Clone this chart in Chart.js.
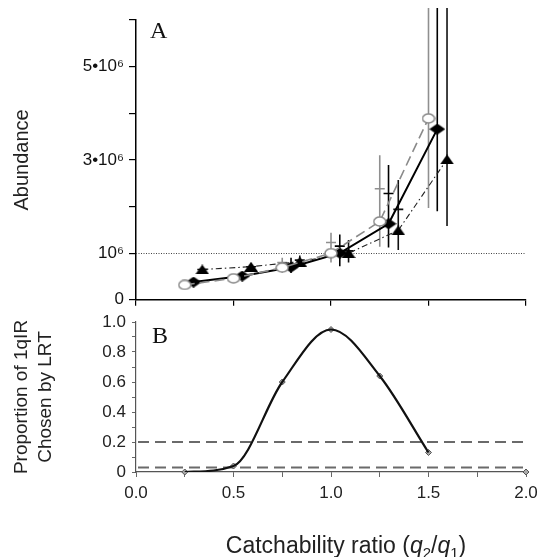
<!DOCTYPE html>
<html>
<head>
<meta charset="utf-8">
<script src="https://cdn.jsdelivr.net/npm/chart.js@4.4.0/dist/chart.umd.min.js"></script>
<style>
  html, body { margin: 0; padding: 0; background: #fff; }
  #wrap { position: relative; width: 548px; height: 557px; overflow: hidden; }
  #wrap canvas { position: absolute; left: 0; }
</style>
</head>
<body>
<div id="wrap">
  <canvas id="cA" width="548" height="315" style="top:0"></canvas>
  <canvas id="cB" width="548" height="252" style="top:305px"></canvas>
</div>
<script>
// ── Panel A: abundance (×10^6) vs catchability ratio ─────────
const circX   = [0.25, 0.5, 0.75, 1.0, 1.25, 1.5];
const circY   = [0.32, 0.46, 0.69, 1.0, 1.68, 3.89];
const circLo  = [0.29, 0.43, 0.58, 0.80, 1.14, 1.97];
const circMid = [0.32, 0.46, 0.80, 1.23, 2.38, 7.5];
const circHi  = [0.35, 0.49, 0.90, 1.44, 3.10, 12];

const diamX   = [0.295, 0.545, 0.795, 1.045, 1.295, 1.545];
const diamY   = [0.38, 0.51, 0.70, 1.0, 1.63, 3.66];
const diamLo  = [0.35, 0.48, 0.58, 0.72, 1.12, 1.90];
const diamMid = [0.38, 0.51, 0.76, 1.15, 2.28, 7.5];
const diamHi  = [0.41, 0.54, 0.90, 1.40, 2.89, 12];

const triX    = [0.34, 0.59, 0.84, 1.09, 1.345, 1.595];
const triY    = [0.65, 0.71, 0.82, 1.0, 1.49, 3.01];
const triLo   = [0.62, 0.68, 0.74, 0.80, 1.07, 1.58];
const triMid  = [0.65, 0.71, 0.85, 1.05, 1.94, 7.5];
const triHi   = [0.68, 0.74, 0.95, 1.28, 2.57, 12];

const aRefLine   = 1.0;                 // true abundance 10^6
const aTickVals  = [0, 1, 3, 5];
const aTickLbls  = ['0', '10⁶', '3•10⁶', '5•10⁶'];

// ── Panel B: proportion of 1qIR chosen by LRT ────────────────
const bX = [0.25, 0.5, 0.75, 1.0, 1.25, 1.5, 2.0];
const bP = [0.0, 0.04, 0.60, 0.95, 0.64, 0.13, 0.0];
const bCurveN   = 6;                    // curve drawn through first 6 points
const bRefLines = [0.2, 0.03];
const bXTickVals = [0, 0.5, 1.0, 1.5, 2.0];
const bXTickLbls = ['0.0', '0.5', '1.0', '1.5', '2.0'];
const bYTickVals = [0, 0.2, 0.4, 0.6, 0.8, 1.0];
const bYTickLbls = ['0', '0.2', '0.4', '0.6', '0.8', '1.0'];

const SANS  = "'Liberation Sans', Arial, sans-serif";
const SERIF = "'Liberation Serif', 'Times New Roman', serif";

const pickLabel = (vals, lbls) => v => {
  const i = vals.findIndex(t => Math.abs(t - v) < 1e-6);
  return i >= 0 ? lbls[i] : '';
};
const pts = (xs, ys) => xs.map((x, i) => ({ x, y: ys[i] }));

// flattened marker shapes (the printed ones are wider than tall)
function marker(w, h, draw) {
  const c = document.createElement('canvas');
  c.width = w; c.height = h;
  draw(c.getContext('2d'), w, h);
  return c;
}
const diamondImg = marker(16, 11, (g, w, h) => {
  g.fillStyle = '#000';
  g.beginPath(); g.moveTo(w / 2, 0); g.lineTo(w, h / 2); g.lineTo(w / 2, h); g.lineTo(0, h / 2); g.closePath(); g.fill();
});
const triangleImg = marker(14, 10, (g, w, h) => {
  g.fillStyle = '#000';
  g.beginPath(); g.moveTo(w / 2, 0); g.lineTo(w, h); g.lineTo(0, h); g.closePath(); g.fill();
});
const ovalImg = marker(14, 11, (g, w, h) => {
  g.fillStyle = '#fff'; g.strokeStyle = '#8a8a8a'; g.lineWidth = 1.5;
  g.beginPath(); g.ellipse(w / 2, h / 2, w / 2 - 1, h / 2 - 1, 0, 0, Math.PI * 2); g.fill(); g.stroke();
});

// error bars + reference line, drawn under the markers
const errSets = [
  { xs: circX, lo: circLo, mid: circMid, hi: circHi, color: '#8f8f8f' },
  { xs: diamX, lo: diamLo, mid: diamMid, hi: diamHi, color: '#000' },
  { xs: triX,  lo: triLo,  mid: triMid,  hi: triHi,  color: '#111' },
];
const panelAExtras = {
  id: 'panelAExtras',
  beforeDatasetsDraw(chart) {
    const { ctx, chartArea: ca, scales: { x, y } } = chart;
    ctx.save();
    // dotted 10^6 line
    ctx.strokeStyle = '#444';
    ctx.lineWidth = 1;
    ctx.setLineDash([1, 1.5]);
    const yr = Math.round(y.getPixelForValue(aRefLine)) + 0.5;
    ctx.beginPath(); ctx.moveTo(ca.left, yr); ctx.lineTo(ca.right, yr); ctx.stroke();
    ctx.setLineDash([]);
    // bars are allowed to run a little above the axis top
    ctx.beginPath();
    ctx.rect(ca.left, ca.top - 12, ca.right - ca.left, ca.bottom - ca.top + 12);
    ctx.clip();
    errSets.forEach(s => {
      ctx.strokeStyle = s.color;
      ctx.lineWidth = 1.6;
      s.xs.forEach((xv, i) => {
        const px = x.getPixelForValue(xv);
        const pLo = y.getPixelForValue(s.lo[i]);
        const pHi = y.getPixelForValue(s.hi[i]);
        const pMid = y.getPixelForValue(s.mid[i]);
        ctx.beginPath();
        ctx.moveTo(px, pLo); ctx.lineTo(px, pHi);
        ctx.moveTo(px - 5, pMid); ctx.lineTo(px + 5, pMid);
        ctx.stroke();
      });
    });
    ctx.restore();
  },
  afterDraw(chart) {
    const { ctx } = chart;
    ctx.save();
    ctx.fillStyle = '#111';
    ctx.font = `24px ${SERIF}`;
    ctx.fillText('A', 150, 38);
    ctx.restore();
  }
};

new Chart(document.getElementById('cA'), {
  type: 'scatter',
  data: {
    datasets: [
      { data: pts(circX, circY), showLine: true, borderColor: '#8a8a8a', borderWidth: 1.6, borderDash: [10, 5],
        pointStyle: ovalImg },
      { data: pts(diamX, diamY), showLine: true, borderColor: '#000', borderWidth: 2, pointStyle: diamondImg },
      { data: pts(triX, triY), showLine: true, borderColor: '#222', borderWidth: 1.1, borderDash: [6, 3, 1.5, 3],
        pointStyle: triangleImg },
    ]
  },
  options: {
    responsive: false, animation: false,
    layout: { padding: { top: 20, right: 22, left: 0, bottom: 0 } },
    plugins: { legend: { display: false }, tooltip: { enabled: false } },
    scales: {
      x: {
        type: 'linear', min: 0, max: 2,
        ticks: { display: false, stepSize: 0.5 },
        grid: { drawOnChartArea: false, tickLength: 6, color: '#000', lineWidth: 1.2 },
        border: { color: '#000', width: 1.5 },
        afterFit: s => { s.height = 12; }
      },
      y: {
        min: 0, max: 6,
        ticks: { stepSize: 1, autoSkip: false, callback: pickLabel(aTickVals, aTickLbls),
                 font: { family: SANS, size: 17 }, color: '#111', padding: 5 },
        grid: { drawOnChartArea: false, tickLength: 7, color: '#000', lineWidth: 1.2 },
        border: { color: '#000', width: 1.5 },
        title: { display: true, text: 'Abundance', font: { family: SANS, size: 20 }, color: '#222', padding: { top: 10 } },
        afterFit: s => { s.width = 136; }
      }
    }
  },
  plugins: [panelAExtras]
});

// dashed guide lines, panel letter and x-axis title with italic q's
const panelBExtras = {
  id: 'panelBExtras',
  beforeDatasetsDraw(chart) {
    const { ctx, chartArea: ca, scales: { y } } = chart;
    ctx.save();
    ctx.strokeStyle = '#6a6a6a';
    ctx.lineWidth = 2;
    ctx.setLineDash([11, 6]);
    bRefLines.forEach(v => {
      const py = y.getPixelForValue(v);
      ctx.beginPath(); ctx.moveTo(ca.left + 2, py); ctx.lineTo(ca.right, py); ctx.stroke();
    });
    ctx.restore();
  },
  afterDraw(chart) {
    const { ctx } = chart;
    ctx.save();
    ctx.fillStyle = '#111';
    ctx.font = `24px ${SERIF}`;
    ctx.fillText('B', 152, 38);
    // "Catchability ratio (q2/q1)"
    const parts = [
      ['Catchability ratio (', `23px ${SANS}`, 0],
      ['q', `italic 23px ${SANS}`, 0],
      ['2', `15px ${SANS}`, 5],
      ['/', `23px ${SANS}`, 0],
      ['q', `italic 23px ${SANS}`, 0],
      ['1', `15px ${SANS}`, 5],
      [')', `23px ${SANS}`, 0],
    ];
    let w = 0;
    parts.forEach(p => { ctx.font = p[1]; w += ctx.measureText(p[0]).width; });
    let cx = 346 - w / 2;
    const base = 248;
    ctx.fillStyle = '#222';
    parts.forEach(p => {
      ctx.font = p[1];
      ctx.fillText(p[0], cx, base + p[2]);
      cx += ctx.measureText(p[0]).width;
    });
    ctx.restore();
  }
};

new Chart(document.getElementById('cB'), {
  type: 'scatter',
  data: {
    datasets: [
      { data: pts(bX.slice(0, bCurveN), bP.slice(0, bCurveN)), showLine: true, borderColor: '#111', borderWidth: 2.2,
        cubicInterpolationMode: 'monotone', pointRadius: 0 },
      { data: pts(bX, bP), showLine: false, pointStyle: 'rectRot', pointRadius: 3, clip: false,
        pointBackgroundColor: '#aaa', pointBorderColor: '#555', pointBorderWidth: 1 },
    ]
  },
  options: {
    responsive: false, animation: false,
    layout: { padding: { top: 17, right: 22, left: 0, bottom: 0 } },
    plugins: { legend: { display: false }, tooltip: { enabled: false } },
    scales: {
      x: {
        type: 'linear', min: 0, max: 2,
        ticks: { stepSize: 0.25, autoSkip: false, maxRotation: 0, callback: pickLabel(bXTickVals, bXTickLbls),
                 font: { family: SANS, size: 17 }, color: '#222', padding: 6 },
        grid: { drawOnChartArea: false, tickLength: 5, color: '#666', lineWidth: 1 },
        border: { color: '#555', width: 1.2 },
        afterFit: s => { s.height = 85; }
      },
      y: {
        min: 0, max: 1,
        ticks: { stepSize: 0.1, autoSkip: false, callback: pickLabel(bYTickVals, bYTickLbls),
                 font: { family: SANS, size: 17 }, color: '#222', padding: 6 },
        grid: { drawOnChartArea: false, tickLength: 4, color: '#666', lineWidth: 1 },
        border: { color: '#555', width: 1.2 },
        title: { display: true, text: ['Proportion of 1qIR', 'Chosen by LRT'], font: { family: SANS, size: 19, lineHeight: 1.27 },
                 color: '#222', padding: { top: 10 } },
        afterFit: s => { s.width = 136; }
      }
    }
  },
  plugins: [panelBExtras]
});
</script>
</body>
</html>
